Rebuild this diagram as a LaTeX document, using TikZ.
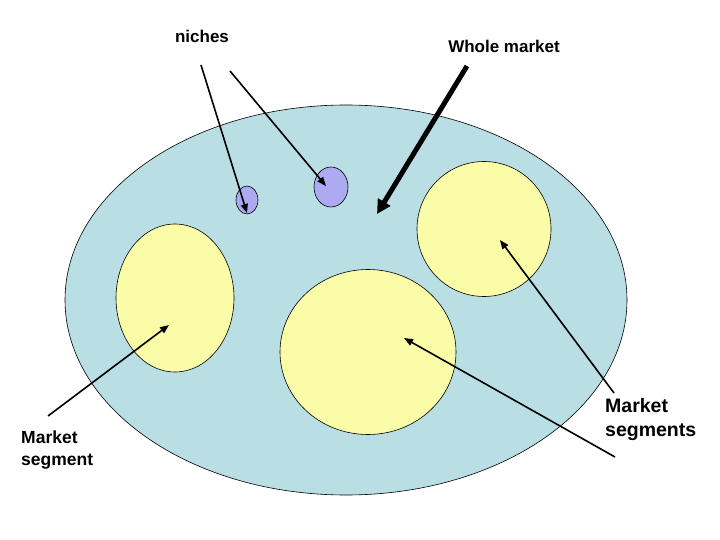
\documentclass[tikz,border=0pt]{standalone}
\usepackage{fontspec}
\setmainfont{Liberation Sans}
\usetikzlibrary{shapes.geometric,arrows.meta}
\definecolor{marketblue}{RGB}{185,222,227}
\definecolor{segyellow}{RGB}{250,252,168}
\definecolor{nichepurple}{RGB}{172,170,240}
\begin{document}
\begin{tikzpicture}[x=1pt,y=-1pt,
    blob/.style={draw,ellipse,inner sep=0pt,line width=0.6pt},
    lbl/.style={font=\bfseries\fontsize{17}{22}\selectfont,align=left,inner sep=0pt},
    pointer/.style={-{Triangle[length=9pt,width=7pt]},line width=1.6pt}]
    \useasboundingbox (0,0) rectangle (720,540);
    % market and its parts
    \node[blob,fill=marketblue,minimum width=562,minimum height=390] (whole) at (346,300) {};
    \node[blob,fill=segyellow,minimum width=118,minimum height=148] (segleft) at (175,298) {};
    \node[blob,fill=segyellow,minimum width=176,minimum height=165] (segmid) at (368,352) {};
    \node[blob,fill=segyellow,minimum width=134,minimum height=135] (segright) at (484,229) {};
    \node[blob,fill=nichepurple,minimum width=22,minimum height=28] (nicheA) at (247,200) {};
    \node[blob,fill=nichepurple,minimum width=34,minimum height=40] (nicheB) at (331,187) {};
    % labels
    \node[lbl,anchor=base] (niches) at (202,43) {niches};
    \node[lbl,anchor=base] (wholelbl) at (504,53) {Whole market};
    \node[lbl,anchor=north west,font=\bfseries\fontsize{17.5}{22}\selectfont] (seglbl) at (21,431) {Market\\segment};
    \node[lbl,anchor=north west,font=\bfseries\fontsize{19.5}{24}\selectfont] (segslbl) at (605,398) {Market\\segments};
    % arrow ends
    \coordinate (tailA) at (201,65);
    \coordinate (headA) at (247,213);
    \coordinate (tailB) at (230,71);
    \coordinate (headB) at (326,186);
    \coordinate (tailW) at (467,66);
    \coordinate (headW) at (377,214);
    \coordinate (tailL) at (48,416);
    \coordinate (headL) at (169,325);
    \coordinate (tailR) at (614,393);
    \coordinate (headR) at (500,240);
    \coordinate (tailM) at (615,457);
    \coordinate (headM) at (404,338);
    \draw[pointer] (tailA) -- (headA);
    \draw[pointer] (tailB) -- (headB);
    \draw[-{Triangle[length=14pt,width=14pt]},line width=5pt] (tailW) -- (headW);
    \draw[pointer] (tailL) -- (headL);
    \draw[pointer] (tailR) -- (headR);
    \draw[pointer] (tailM) -- (headM);
\end{tikzpicture}
\end{document}
